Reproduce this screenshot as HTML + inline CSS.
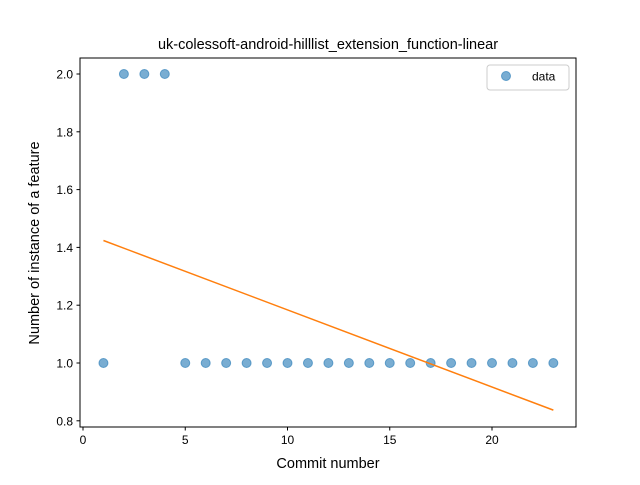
<!DOCTYPE html>
<html><head><meta charset="utf-8"><style>
body{margin:0;background:#fff}
svg{font-family:"Liberation Sans","DejaVu Sans",sans-serif}
</style></head><body>
<svg id="chart" width="640" height="480" xmlns="http://www.w3.org/2000/svg">
<rect width="640" height="480" fill="#fff"/>
<text x="328" y="49" font-size="14.5" text-anchor="middle">uk-colessoft-android-hilllist_extension_function-linear</text>
<g id="plot"></g>
<rect x="80" y="58" width="496" height="369" fill="none" stroke="#000" stroke-width="1"/>
<text x="328" y="468" font-size="14.5" text-anchor="middle">Commit number</text>
<text transform="translate(39,243) rotate(-90)" font-size="14.5" text-anchor="middle">Number of instance of a feature</text>
<g>
<rect x="487" y="65" width="82" height="25" rx="3" fill="#fff" stroke="#ccc"/>
<circle cx="506" cy="76" r="4.5" fill="#1f77b4" fill-opacity="0.6" stroke="#1f77b4" stroke-opacity="0.6"/>
<text x="532" y="80.5" font-size="12">data</text>
</g>
</svg>
<script>
const xs=[1,2,3,4,5,6,7,8,9,10,11,12,13,14,15,16,17,18,19,20,21,22,23];
const ys=[1,2,2,2,1,1,1,1,1,1,1,1,1,1,1,1,1,1,1,1,1,1,1];
const xTicks=[0,5,10,15,20];
const yTicks=[0.8,1.0,1.2,1.4,1.6,1.8,2.0];
const X=v=>83+(v-0)*20.45;
const Y=v=>363-(v-1)*289;
const NS="http://www.w3.org/2000/svg";
const g=document.getElementById('plot');
function mk(t,a){const e=document.createElementNS(NS,t);for(const k in a)e.setAttribute(k,a[k]);g.appendChild(e);return e;}
xTicks.forEach(t=>{
 const l=mk('line',{x1:X(t),x2:X(t),y1:427,y2:430.5,stroke:'#000'});
 
 
 const tx=mk('text',{x:X(t),y:444,'font-size':12,'text-anchor':'middle'});tx.textContent=t;
 
 
});
yTicks.forEach(t=>{
 const l=mk('line',{x1:76.5,x2:80,y1:Y(t),y2:Y(t),stroke:'#000'});
 
 
 const tx=mk('text',{x:73,y:Y(t)+4.5,'font-size':12,'text-anchor':'end'});tx.textContent=t.toFixed(1);
 
 
});
xs.forEach((x,i)=>{
 const c=mk('circle',{cx:X(x),cy:Y(ys[i]),r:4.5,fill:'#1f77b4','fill-opacity':0.6,stroke:'#1f77b4','stroke-opacity':0.6});
 
 
});
const n=xs.length,mx=xs.reduce((a,b)=>a+b)/n,my=ys.reduce((a,b)=>a+b)/n;
let sxy=0,sxx=0;xs.forEach((x,i)=>{sxy+=(x-mx)*(ys[i]-my);sxx+=(x-mx)*(x-mx);});
const sl=sxy/sxx,ic=my-sl*mx,x0=xs[0],x1=xs[n-1];
const fl=mk('line',{x1:X(x0),y1:Y(ic+sl*x0),x2:X(x1),y2:Y(ic+sl*x1),stroke:'#ff7f0e','stroke-width':1.5});


</script>
</body></html>
